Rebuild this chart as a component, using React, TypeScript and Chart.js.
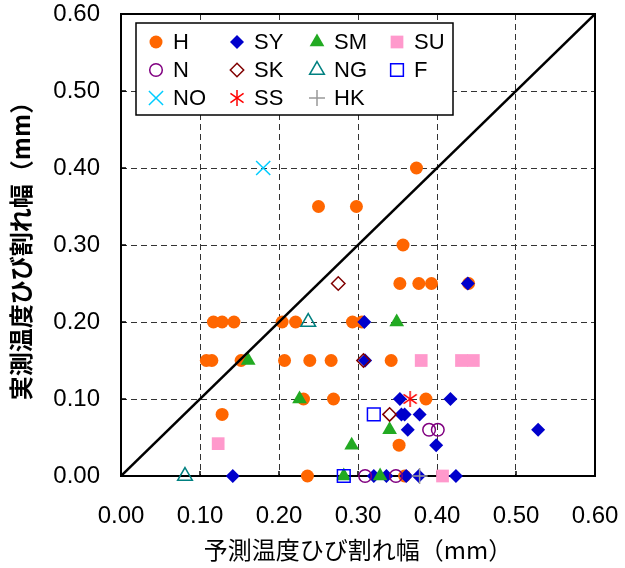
import React, { useEffect, useRef } from 'react';
import { Chart, registerables } from 'chart.js';
import { drawPoint } from 'chart.js/helpers';
Chart.register(...registerables);

const tickLabels = ['0.00', '0.10', '0.20', '0.30', '0.40', '0.50', '0.60'];
const xTitle = '予測温度ひび割れ幅（mm）';
const yTitle = '実測温度ひび割れ幅（mm）';

const H = [
  [0.374, 0.40], [0.25, 0.35], [0.298, 0.35], [0.357, 0.30],
  [0.353, 0.25], [0.377, 0.25], [0.393, 0.25], [0.44, 0.25],
  [0.117, 0.20], [0.128, 0.20], [0.143, 0.20], [0.204, 0.20], [0.221, 0.20], [0.293, 0.20], [0.305, 0.20],
  [0.108, 0.15], [0.115, 0.15], [0.152, 0.15], [0.207, 0.15], [0.239, 0.15], [0.266, 0.15], [0.342, 0.15],
  [0.231, 0.10], [0.269, 0.10], [0.386, 0.10],
  [0.128, 0.08], [0.352, 0.04], [0.236, 0.0], [0.359, 0.0],
];
const SY = [
  [0.439, 0.25], [0.308, 0.20], [0.309, 0.15], [0.353, 0.10], [0.417, 0.10],
  [0.355, 0.08], [0.359, 0.08], [0.378, 0.08], [0.363, 0.06], [0.528, 0.06], [0.399, 0.04],
  [0.1415, 0.0], [0.32, 0.0], [0.336, 0.0], [0.361, 0.0], [0.377, 0.0], [0.424, 0.0],
];
const SM = [[0.349, 0.20], [0.161, 0.15], [0.226, 0.10], [0.34, 0.06], [0.292, 0.04], [0.282, 0.0], [0.328, 0.0]];
const SU = [[0.38, 0.15], [0.431, 0.15], [0.446, 0.15], [0.123, 0.042], [0.407, 0.0]];
const N = [[0.39, 0.06], [0.401, 0.06], [0.309, 0.0], [0.348, 0.0]];
const SK = [[0.275, 0.25], [0.307, 0.15], [0.34, 0.08]];
const NG = [[0.237, 0.20], [0.081, 0.0]];
const F = [[0.32, 0.08], [0.282, 0.0]];
const NO = [[0.18, 0.40]];
const SS = [[0.366, 0.10]];
const HK = [[0.378, 0.0]];
const DIAG = [[0, 0], [0.6, 0.6]];

const toPts = (a: number[][]) => a.map(([x, y]) => ({ x, y }));

function makeAsterisk(color: string) {
  const c = document.createElement('canvas');
  c.width = 18; c.height = 18;
  const g = c.getContext('2d')!;
  g.strokeStyle = color; g.lineWidth = 1.5;
  const r = 8;
  for (const deg of [90, 35, 145]) {
    const a = (deg * Math.PI) / 180;
    g.beginPath();
    g.moveTo(9 - Math.cos(a) * r, 9 - Math.sin(a) * r);
    g.lineTo(9 + Math.cos(a) * r, 9 + Math.sin(a) * r);
    g.stroke();
  }
  return c;
}

export default function App() {
  const ref = useRef<HTMLCanvasElement>(null);
  useEffect(() => {
    document.body.style.margin = '0';
    const asterisk = makeAsterisk('#FF0000');
    const T = 'rgba(0,0,0,0)';
    const series = [
      { label: 'H', data: H, pointStyle: 'circle', radius: 6.5, bg: '#FF6600', bc: '#FF6600', bw: 0 },
      { label: 'SY', data: SY, pointStyle: 'rectRot', radius: 7, bg: '#0000CC', bc: '#0000CC', bw: 0 },
      { label: 'SM', data: SM, pointStyle: 'triangle', radius: 8.5, bg: '#22AA22', bc: '#22AA22', bw: 0 },
      { label: 'SU', data: SU, pointStyle: 'rect', radius: 9, bg: '#FF99CC', bc: '#FF99CC', bw: 0 },
      { label: 'N', data: N, pointStyle: 'circle', radius: 6.3, bg: T, bc: '#800080', bw: 1.5 },
      { label: 'SK', data: SK, pointStyle: 'rectRot', radius: 6.7, bg: T, bc: '#800000', bw: 1.5 },
      { label: 'NG', data: NG, pointStyle: 'triangle', radius: 8.5, bg: T, bc: '#008080', bw: 1.5 },
      { label: 'F', data: F, pointStyle: 'rect', radius: 9, bg: T, bc: '#0000FF', bw: 1.5 },
      { label: 'NO', data: NO, pointStyle: 'crossRot', radius: 10, bg: T, bc: '#00CCFF', bw: 1.5 },
      { label: 'SS', data: SS, pointStyle: asterisk as any, radius: 9, bg: T, bc: '#FF0000', bw: 1.5 },
      { label: 'HK', data: HK, pointStyle: 'cross', radius: 8, bg: T, bc: '#999999', bw: 1.5 },
    ];
    const datasets: any[] = series.map((s, i) => ({
      label: s.label,
      data: toPts(s.data),
      pointStyle: s.pointStyle,
      pointRadius: s.radius,
      pointBackgroundColor: s.bg,
      pointBorderColor: s.bc,
      pointBorderWidth: s.bw,
      backgroundColor: s.bg,
      borderColor: s.bc,
      showLine: false,
      clip: false,
      order: 20 - i,
    }));
    datasets.push({
      label: 'diag',
      data: toPts(DIAG),
      showLine: true,
      borderColor: '#000',
      borderWidth: 2.5,
      pointRadius: 0,
      order: 0,
    });

    const framePlugin = {
      id: 'frame',
      beforeDatasetsDraw(chart: any) {
        const { ctx, chartArea: a } = chart;
        ctx.save();
        ctx.strokeStyle = '#000';
        ctx.lineWidth = 1.5;
        const xs = chart.scales.x, ys = chart.scales.y;
        for (let v = 0.1; v < 0.59; v += 0.1) {
          const px = xs.getPixelForValue(v);
          const py = ys.getPixelForValue(v);
          ctx.beginPath();
          ctx.moveTo(px, a.bottom); ctx.lineTo(px, a.bottom - 5);
          ctx.moveTo(a.left, py); ctx.lineTo(a.left + 5, py);
          ctx.stroke();
        }
        ctx.lineWidth = 2;
        ctx.strokeRect(a.left, a.top, a.right - a.left, a.bottom - a.top);
        ctx.restore();
      },
    };

    const legendPlugin = {
      id: 'boxLegend',
      afterDraw(chart: any) {
        const { ctx } = chart;
        const left = 136, top = 23, right = 453, bottom = 115;
        ctx.save();
        ctx.fillStyle = '#fff';
        ctx.fillRect(left, top, right - left, bottom - top);
        ctx.strokeStyle = '#000';
        ctx.lineWidth = 1.5;
        ctx.strokeRect(left, top, right - left, bottom - top);
        const colX = [156, 237, 317, 397];
        const rowY = [42, 70, 98];
        ctx.font = '22px "Liberation Sans", Arial, sans-serif';
        ctx.textBaseline = 'middle';
        ctx.textAlign = 'left';
        series.forEach((s, i) => {
          const cx = colX[i % 4];
          const cy = rowY[Math.floor(i / 4)];
          ctx.fillStyle = s.bg;
          ctx.strokeStyle = s.bc;
          ctx.lineWidth = s.bw;
          drawPoint(ctx, { pointStyle: s.pointStyle as any, radius: s.radius, rotation: 0, borderWidth: s.bw }, cx, cy);
          ctx.fillStyle = '#000';
          ctx.fillText(s.label, cx + 17, cy + 1);
        });
        ctx.restore();
      },
    };

    const tickFont = { family: '"Liberation Sans", Arial, sans-serif', size: 24 };
    const titleFont = { family: '"Noto Sans CJK JP", sans-serif', size: 24 };

    const chart = new Chart(ref.current!, {
      type: 'scatter',
      data: { datasets },
      options: {
        animation: false,
        responsive: false,
        devicePixelRatio: 1,
        events: [],
        layout: { padding: { left: 0, right: 30, top: 14, bottom: 0 } },
        plugins: { legend: { display: false }, tooltip: { enabled: false } },
        scales: {
          x: {
            type: 'linear', min: 0, max: 0.6,
            ticks: { stepSize: 0.1, font: tickFont, color: '#000', padding: 26, maxRotation: 0,
              callback: (_v: any, i: number) => tickLabels[i] },
            grid: { color: '#333', lineWidth: 1, drawTicks: false },
            border: { display: false, dash: [6, 4] },
            title: { display: true, text: xTitle, font: titleFont, color: '#000', padding: { top: 0, bottom: 4 } },
            afterFit: (s: any) => { s.height = 92; s.paddingLeft = 0; s.paddingRight = 0; },
          },
          y: {
            type: 'linear', min: 0, max: 0.6,
            ticks: { stepSize: 0.1, font: tickFont, color: '#000', padding: 21,
              callback: (_v: any, i: number) => tickLabels[i] },
            grid: { color: '#333', lineWidth: 1, drawTicks: false },
            border: { display: false, dash: [6, 4] },
            title: { display: true, text: yTitle, font: { ...titleFont, weight: 'bold' }, color: '#000', padding: { top: 6, bottom: 0 } },
            afterFit: (s: any) => { s.width = 121; s.paddingTop = 0; s.paddingBottom = 0; },
          },
        },
      } as any,
      plugins: [framePlugin, legendPlugin],
    });
    return () => chart.destroy();
  }, []);
  return <canvas ref={ref} width={625} height={568} style={{ display: 'block' }} />;
}
